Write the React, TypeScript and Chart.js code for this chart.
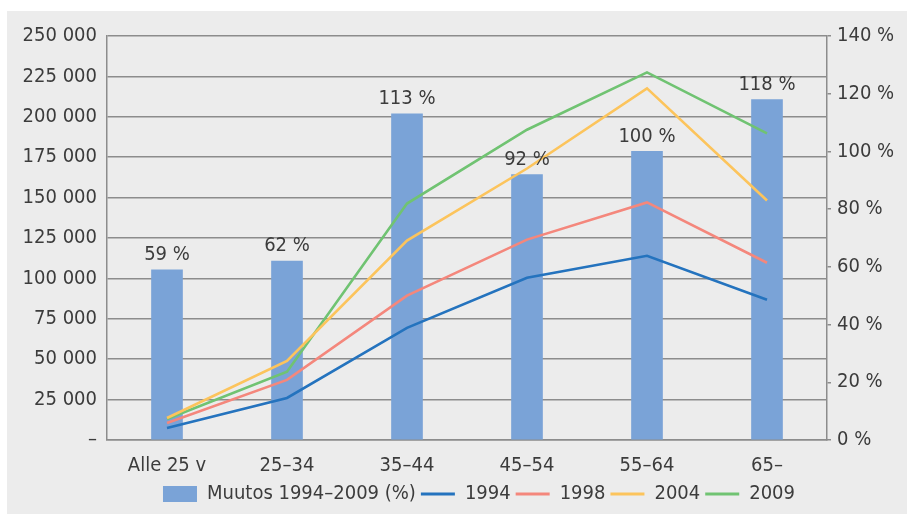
import React, { useEffect, useRef } from "react";
import { Chart, registerables } from "chart.js";

Chart.register(...registerables);

const categories = ["Alle 25 v", "25–34", "35–44", "45–54", "55–64", "65–"];
const changePct = [59, 62, 113, 92, 100, 118];
const s1994 = [7400, 26000, 69400, 100400, 114000, 86800];
const s1998 = [10500, 37200, 89300, 124000, 147000, 109700];
const s2004 = [13600, 49000, 123400, 168000, 217600, 148200];
const s2009 = [13000, 42200, 146300, 192000, 227500, 189700];
const leftTicks = [0, 25000, 50000, 75000, 100000, 125000, 150000, 175000, 200000, 225000, 250000];
const rightTicks = [0, 20, 40, 60, 80, 100, 120, 140];

const FONT = "'DejaVu Sans Condensed', 'Liberation Sans Narrow', sans-serif";
const TEXT = "#3c3c3c";
const GRID = "#8c8c8c";

const fmt = (v: number) => (v === 0 ? "–" : String(v).replace(/\B(?=(\d{3})+(?!\d))/g, " "));

const barLabels = {
  id: "barLabels",
  afterDatasetsDraw(chart: any) {
    const meta = chart.getDatasetMeta(0);
    const ctx = chart.ctx;
    ctx.save();
    ctx.font = `20px ${FONT}`;
    ctx.fillStyle = TEXT;
    ctx.textAlign = "center";
    ctx.textBaseline = "bottom";
    meta.data.forEach((el: any, i: number) => {
      ctx.fillText(`${changePct[i]} %`, el.x, el.y - 5);
    });
    ctx.restore();
  },
};

const legendShift = {
  id: "legendShift",
  afterLayout(chart: any) {
    const lg = chart.legend;
    if (lg) {
      lg.left += 22;
      lg.right += 22;
    }
  },
};

export default function App() {
  const ref = useRef<HTMLCanvasElement | null>(null);
  useEffect(() => {
    document.body.style.margin = "0";
    const lineDs = (label: string, data: number[], color: string) => ({
      type: "line" as const,
      label,
      data,
      yAxisID: "y",
      borderColor: color,
      backgroundColor: color,
      borderWidth: 2.6,
      pointRadius: 0,
      tension: 0,
      order: 0,
    });
    const chart = new Chart(ref.current!, {
      type: "bar",
      data: {
        labels: categories,
        datasets: [
          {
            type: "bar",
            label: "Muutos 1994–2009 (%)",
            data: changePct,
            yAxisID: "y1",
            backgroundColor: "#7aa3d7",
            barThickness: 31,
            order: 1,
          } as any,
          lineDs("1994", s1994, "#2473be"),
          lineDs("1998", s1998, "#f4877c"),
          lineDs("2004", s2004, "#fcc45c"),
          lineDs("2009", s2009, "#70c372"),
        ],
      },
      options: {
        animation: false,
        responsive: false,
        layout: { padding: { top: 25, bottom: 0 } },
        plugins: {
          tooltip: { enabled: false },
          legend: {
            position: "bottom",
            labels: {
              color: TEXT,
              font: { size: 20, family: FONT },
              usePointStyle: true,
              pointStyleWidth: 34,
              boxHeight: 16,
              padding: 5,
              generateLabels: (c: any) =>
                c.data.datasets.map((d: any, i: number) => ({
                  text: d.label,
                  fillStyle: d.backgroundColor,
                  strokeStyle: d.type === "bar" ? d.backgroundColor : d.borderColor,
                  lineWidth: d.type === "bar" ? 0 : 3,
                  pointStyle: d.type === "bar" ? "rect" : "line",
                  fontColor: TEXT,
                  datasetIndex: i,
                  hidden: false,
                })),
            },
          },
        },
        scales: {
          x: {
            grid: { display: false },
            border: { display: true, color: GRID, width: 1.5 },
            ticks: { color: TEXT, font: { size: 20, family: FONT }, padding: 6 },
            afterFit: (s: any) => {
              s.height = 39;
            },
          },
          y: {
            position: "left",
            min: 0,
            max: 250000,
            afterBuildTicks: (s: any) => {
              s.ticks = leftTicks.map((v) => ({ value: v }));
            },
            grid: { color: GRID, lineWidth: 1.5, drawTicks: false },
            border: { display: true, color: GRID, width: 1.5 },
            ticks: {
              color: TEXT,
              font: { size: 20, family: FONT },
              padding: 10,
              callback: (v: any) => fmt(Number(v)),
            },
            afterFit: (s: any) => {
              s.width = 100;
            },
          },
          y1: {
            position: "right",
            min: 0,
            max: 140,
            afterBuildTicks: (s: any) => {
              s.ticks = rightTicks.map((v) => ({ value: v }));
            },
            grid: { drawOnChartArea: false, drawTicks: true, tickLength: 4, color: GRID, lineWidth: 1.5 },
            border: { display: true, color: GRID, width: 1.5 },
            ticks: {
              color: TEXT,
              font: { size: 20, family: FONT },
              padding: 6,
              callback: (v: any) => `${v} %`,
            },
            afterFit: (s: any) => {
              s.width = 80;
            },
          },
        },
      },
      plugins: [barLabels, legendShift],
    });
    return () => chart.destroy();
  }, []);
  return (
    <div style={{ position: "relative", width: 907, height: 514, background: "#ffffff", overflow: "hidden" }}>
      <div style={{ position: "absolute", left: 7, top: 11, width: 900, height: 503, background: "#ececec" }}>
        <canvas ref={ref} width={900} height={503} style={{ display: "block", background: "#ececec" }} />
      </div>
    </div>
  );
}
